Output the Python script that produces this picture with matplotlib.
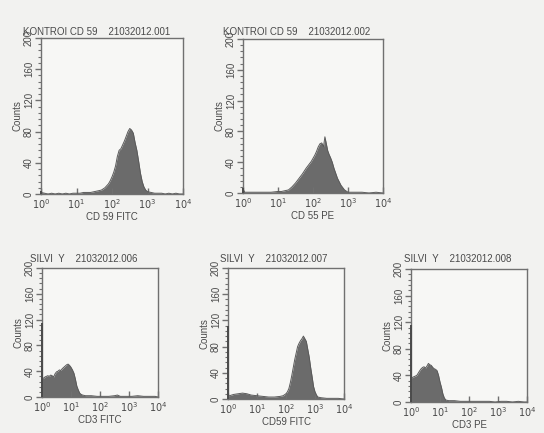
import numpy as np
import matplotlib.pyplot as plt
from matplotlib.ticker import MultipleLocator, LogLocator, NullFormatter

plt.rcParams['font.family'] = ['Liberation Sans', 'DejaVu Sans']

# ==========================================
# 数据 (从图中读出, 横轴为对数 decade 位置)
# ==========================================
titles = ["KONTROI CD 59    21032012.001", "KONTROI CD 59    21032012.002",
          "SILVI  Y    21032012.006", "SILVI  Y    21032012.007",
          "SILVI  Y    21032012.008"]
xlabels = ["CD 59 FITC", "CD 55 PE", "CD3 FITC", "CD59 FITC", "CD3 PE"]

p1_pos = [0.0, 0.1, 0.2, 0.3, 0.4, 0.5, 0.6, 0.7, 0.8, 0.9, 1.0, 1.1, 1.2, 1.3, 1.4,
          1.5, 1.6, 1.7, 1.8, 1.9, 1.95, 2.0, 2.05, 2.1, 2.15, 2.2, 2.25, 2.3, 2.35,
          2.4, 2.45, 2.5, 2.55, 2.6, 2.65, 2.7, 2.75, 2.8, 2.85, 2.9, 2.95, 3.0,
          3.1, 3.2, 3.3, 3.4, 3.5, 3.6, 3.7, 3.8, 3.9, 4.0]
p1_counts = [2, 1, 0, 1, 0, 1, 0, 1, 0, 1, 1, 1, 2, 2, 2,
             3, 4, 5, 8, 13, 17, 22, 28, 36, 48, 56, 58, 63, 68,
             74, 80, 84, 82, 78, 66, 56, 42, 27, 16, 9, 5, 3,
             2, 1, 1, 1, 0, 1, 0, 1, 0, 0]

p2_pos = [0.0, 0.05, 0.2, 0.4, 0.6, 0.8, 1.0, 1.1, 1.2, 1.3, 1.4, 1.5, 1.6, 1.7,
          1.8, 1.85, 1.9, 1.95, 2.0, 2.05, 2.1, 2.15, 2.2, 2.25, 2.3, 2.34, 2.38,
          2.42, 2.46, 2.5, 2.55, 2.6, 2.7, 2.8, 2.9, 3.0, 3.2, 3.4, 3.6, 3.8, 4.0]
p2_counts = [5, 1, 1, 1, 1, 1, 2, 2, 3, 4, 8, 13, 19, 25,
             32, 35, 38, 41, 45, 49, 54, 60, 64, 65, 60, 73, 64,
             55, 50, 46, 40, 32, 19, 10, 4, 1, 1, 1, 0, 1, 0]

p3_pos = [0.0, 0.05, 0.1, 0.15, 0.2, 0.25, 0.3, 0.35, 0.4, 0.45, 0.5, 0.55, 0.6,
          0.65, 0.7, 0.75, 0.8, 0.85, 0.9, 0.95, 1.0, 1.05, 1.1, 1.15, 1.2, 1.25,
          1.3, 1.35, 1.4, 1.5, 1.7, 1.9, 2.1, 2.3, 2.5, 2.6, 2.7, 2.9, 3.1, 3.3,
          3.5, 3.7, 3.9, 4.0]
p3_counts = [30, 29, 31, 32, 33, 32, 34, 33, 31, 36, 39, 40, 42,
             41, 44, 46, 48, 50, 51, 49, 46, 42, 37, 28, 17, 11,
             6, 4, 3, 2, 2, 1, 1, 1, 2, 3, 1, 1, 1, 2,
             1, 1, 1, 0]

p4_pos = [0.0, 0.05, 0.2, 0.35, 0.5, 0.65, 0.8, 1.0, 1.2, 1.4, 1.6, 1.8, 1.9, 2.0,
          2.05, 2.1, 2.15, 2.2, 2.25, 2.3, 2.35, 2.4, 2.45, 2.5, 2.55, 2.6, 2.65,
          2.7, 2.75, 2.8, 2.85, 2.9, 2.95, 3.0, 3.05, 3.1, 3.2, 3.4, 3.6, 3.8, 4.0]
p4_counts = [5, 5, 7, 8, 9, 8, 6, 5, 4, 3, 3, 4, 5, 8,
             11, 16, 25, 36, 48, 60, 70, 80, 85, 89, 92, 96, 92,
             88, 76, 64, 48, 34, 19, 11, 6, 3, 2, 1, 1, 1, 0]

p5_pos = [0.0, 0.05, 0.1, 0.2, 0.3, 0.35, 0.4, 0.45, 0.5, 0.55, 0.6, 0.65, 0.7,
          0.75, 0.8, 0.85, 0.9, 0.95, 1.0, 1.05, 1.1, 1.15, 1.2, 1.3, 1.5, 1.7,
          1.9, 2.1, 2.3, 2.5, 2.7, 2.9, 3.1, 3.3, 3.5, 3.7, 3.9, 4.0]
p5_counts = [36, 37, 38, 40, 47, 50, 52, 53, 51, 54, 58, 56, 55,
             52, 50, 49, 47, 40, 30, 22, 12, 6, 3, 2, 2, 1,
             1, 1, 1, 1, 1, 0, 1, 1, 0, 1, 0, 0]

# 第一通道的累积计数 (左边缘细竖线)
first_channel = [4, 6, 114, 112, 116]

panel_pos = [p1_pos, p2_pos, p3_pos, p4_pos, p5_pos]
panel_counts = [p1_counts, p2_counts, p3_counts, p4_counts, p5_counts]

# ==========================================
# 绘图
# ==========================================
W, H = 544, 433
# 每个面板的像素框 (left, right, top, bottom)
boxes = [(41, 183, 38, 194), (243, 383, 39, 193),
         (42, 158, 268, 397), (228, 344, 268, 399), (411, 527, 269, 402)]
# 标题左端相对坐标框的像素偏移, 标题基线的像素 y
title_dx = [-18, -20, -12, -8, -7]
title_y = [35, 35, 262, 262, 262]

fig = plt.figure(figsize=(W / 100, H / 100), dpi=100, facecolor='#f2f2f0')

text_c = '#4a4a4a'
line_c = '#707070'
fill_c = '#6b6b6b'

for i, (l, r, t, b) in enumerate(boxes):
    ax = fig.add_axes([l / W, 1 - b / H, (r - l) / W, (b - t) / H])
    ax.set_facecolor('#f7f7f5')
    x = 10 ** np.array(panel_pos[i])
    y = np.array(panel_counts[i])
    ax.fill_between(x, y, color=fill_c, lw=0)
    ax.plot(x, y, color='#5a5a5a', lw=0.7)
    ax.vlines(x[0] * 1.02, 0, first_channel[i], color='#4a4a4a', lw=1.4,
              zorder=3, clip_on=False)

    ax.set_xscale('log')
    ax.set_xlim(1, 1e4)
    ax.set_ylim(0, 200)
    ax.set_xticks([1, 10, 100, 1000, 10000])
    ax.set_xticklabels([r'$10^0$', r'$10^1$', r'$10^2$', r'$10^3$', r'$10^4$'])
    ax.xaxis.set_minor_locator(LogLocator(base=10, subs=np.arange(2, 10)))
    ax.xaxis.set_minor_formatter(NullFormatter())
    ax.yaxis.set_major_locator(MultipleLocator(40))
    ax.yaxis.set_minor_locator(MultipleLocator(8))
    for lab in ax.get_yticklabels():
        lab.set_rotation(90)
        lab.set_va('center')

    ax.tick_params(axis='x', which='major', direction='in', length=4, width=1,
                   colors=line_c, labelcolor=text_c, labelsize=7, pad=2)
    ax.tick_params(axis='x', which='minor', direction='in', length=2.5, width=0.8,
                   colors=line_c)
    ax.tick_params(axis='y', which='major', direction='out', length=4, width=1,
                   colors=line_c, labelcolor=text_c, labelsize=7, pad=1)
    ax.tick_params(axis='y', which='minor', direction='out', length=2, width=0.8,
                   colors=line_c)
    for sp in ax.spines.values():
        sp.set_color(line_c)
        sp.set_linewidth(1.0)

    ax.set_xlabel(xlabels[i], fontsize=7, color=text_c, labelpad=1)
    ax.set_ylabel('Counts', fontsize=7, color=text_c, labelpad=1)
    # 标题: 左端超出坐标框, 压在 200 标签上 (与原图一致)
    fig.text((l + title_dx[i]) / W, 1 - title_y[i] / H, titles[i], fontsize=7,
             color=text_c, ha='left', va='baseline')

plt.savefig('out.png', dpi=100, facecolor=fig.get_facecolor())
